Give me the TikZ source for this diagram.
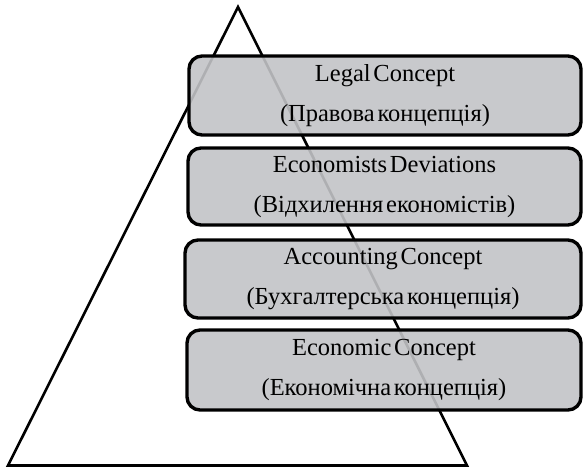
\documentclass[tikz,border=0pt]{standalone}
\usepackage{fontspec}
\setmainfont{Liberation Serif}[WordSpace=0.45]
\usepackage{xcolor}
\definecolor{layergray}{RGB}{194,195,198}

\begin{document}
\begin{tikzpicture}[x=1pt,y=-1pt,
  layer/.style={draw,line width=3.4pt,rounded corners=13pt,
    fill=layergray,fill opacity=0.9,text opacity=1,
    align=center,inner sep=0pt,
    font=\fontsize{24.5}{40}\selectfont}]
  \useasboundingbox (0,0) rectangle (586,468);
  % the pyramid sits behind the layers and shows faintly through them
  \coordinate (apex) at (238,7);
  \coordinate (baseL) at (8,465.5);
  \coordinate (baseR) at (467,465.5);
  \draw[line width=2.6pt] (baseL)--(apex)--(baseR)--cycle;
  \foreach \name/\xl/\yt/\yb/\en/\uk in {
      legal/189/56/135/{Legal Concept}/{(Правова концепція)},
      deviation/188/148/225/{Economists Deviations}/{(Відхилення економістів)},
      accounting/185/240/318/{Accounting Concept}/{(Бухгалтерська концепція)},
      economic/187/330/410/{Economic Concept}/{(Економічна концепція)}} {
    \node[layer,minimum width={581-\xl},minimum height={\yb-\yt}]
      (\name) at ({(\xl+581)/2},{(\yt+\yb)/2}) {\en\\\uk};
  }
\end{tikzpicture}
\end{document}
